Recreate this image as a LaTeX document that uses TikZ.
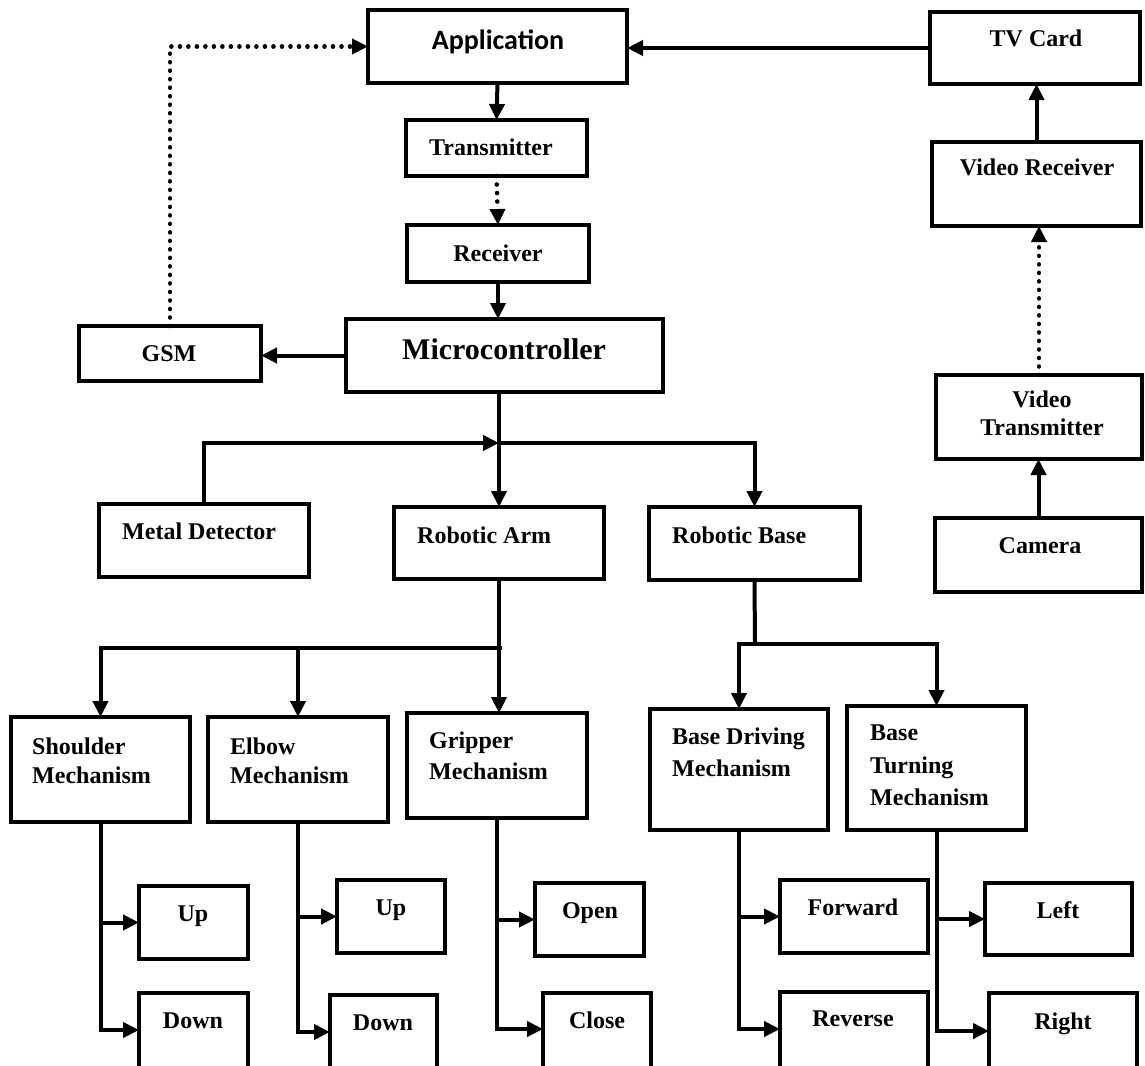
\documentclass[tikz,border=0pt]{standalone}
\usepackage{fontspec}
\setmainfont{Liberation Serif}
\newfontfamily\appfont{Carlito}
\usetikzlibrary{arrows.meta}
\begin{document}
\begin{tikzpicture}[x=1pt,y=-1pt,
  box/.style={draw, line width=3.5pt, inner sep=0pt, outer sep=0pt, rectangle},
  leaf/.style={box, anchor=north west},
  lbl/.style={inner sep=0pt, anchor=base, font=\fontsize{24}{29}\selectfont\bfseries},
  lbll/.style={lbl, anchor=base west},
  conn/.style={line width=4pt},
  arr/.style={line width=4pt, -{Triangle[length=16pt,width=15pt]}},
  dotarr/.style={line width=4.6pt, line cap=round, dash pattern=on 0.01pt off 8.5pt, -{Triangle[length=16pt,width=15pt]}},
]
\useasboundingbox (0,0) rectangle (1145,1065);
\clip (0,0) rectangle (1145,1065);
\fill[white] (0,0) rectangle (1145,1065);

% main boxes
\node[box, minimum width=259pt, minimum height=73pt] (app) at (497.5,46.5) {};
\node[box, minimum width=210pt, minimum height=72pt] (tv) at (1035,48) {};
\node[box, minimum width=209pt, minimum height=84pt] (vr) at (1036.5,184) {};
\node[box, minimum width=206pt, minimum height=84pt] (vt) at (1039,417) {};
\node[box, minimum width=207pt, minimum height=74pt] (cam) at (1038.5,555) {};
\node[box, minimum width=181pt, minimum height=56pt] (tx) at (496.5,148) {};
\node[box, minimum width=182pt, minimum height=57pt] (rx) at (498,253.5) {};
\node[box, minimum width=317pt, minimum height=73pt] (mc) at (504.5,355.5) {};
\node[box, minimum width=182pt, minimum height=55pt] (gsm) at (170,353.5) {};
\node[box, minimum width=210pt, minimum height=73pt] (md) at (204,540.5) {};
\node[box, minimum width=210pt, minimum height=72pt] (ra) at (499,543) {};
\node[box, minimum width=211pt, minimum height=73pt] (rb) at (754.5,543.5) {};
\node[box, minimum width=179pt, minimum height=105pt] (sh) at (100.5,769.5) {};
\node[box, minimum width=180pt, minimum height=105pt] (el) at (298,769.5) {};
\node[box, minimum width=180pt, minimum height=105pt] (gr) at (497,765.5) {};
\node[box, minimum width=178pt, minimum height=121pt] (bd) at (739,769.5) {};
\node[box, minimum width=179pt, minimum height=124pt] (bt) at (936.5,768) {};

% leaf boxes
\node[leaf, minimum width=109pt, minimum height=73pt] (sup) at (139,886) {};
\node[leaf, minimum width=109pt, minimum height=95pt] (sdn) at (139,993) {};
\node[leaf, minimum width=108pt, minimum height=73pt] (eup) at (337,880) {};
\node[leaf, minimum width=107pt, minimum height=95pt] (edn) at (330,995) {};
\node[leaf, minimum width=109pt, minimum height=73pt] (gop) at (535,883) {};
\node[leaf, minimum width=108pt, minimum height=95pt] (gcl) at (543,993) {};
\node[leaf, minimum width=148pt, minimum height=73pt] (fw) at (780,880) {};
\node[leaf, minimum width=148pt, minimum height=95pt] (rv) at (780,992) {};
\node[leaf, minimum width=147pt, minimum height=72pt] (lf) at (985,883) {};
\node[leaf, minimum width=148pt, minimum height=95pt] (rt) at (989,993) {};

% labels
\node[inner sep=0pt, anchor=base, font=\appfont\fontsize{28}{32}\selectfont\bfseries] (t-app) at (498,50) {Application};
\node[lbl] (t-tv) at (1036,47) {TV Card};
\node[lbl] (t-vr) at (1037,175) {Video Receiver};
\node[lbl] (t-vt1) at (1042,407) {Video};
\node[lbl] (t-vt2) at (1042,435) {Transmitter};
\node[lbl] (t-cam) at (1040,553) {Camera};
\node[lbl] (t-tx) at (491,155) {Transmitter};
\node[lbl] (t-rx) at (498,261) {Receiver};
\node[inner sep=0pt, anchor=base west, font=\fontsize{30}{34}\selectfont\bfseries] (t-mc) at (402,359) {Microcontroller};
\node[lbl] (t-gsm) at (169,361) {GSM};
\node[lbll] (t-md) at (122,539) {Metal Detector};
\node[lbll] (t-ra) at (417,543) {Robotic Arm};
\node[lbll] (t-rb) at (672,543) {Robotic Base};
\node[lbll] (t-sh1) at (32,754) {Shoulder};
\node[lbll] (t-sh2) at (32,783) {Mechanism};
\node[lbll] (t-el1) at (230,754) {Elbow};
\node[lbll] (t-el2) at (230,783) {Mechanism};
\node[lbll] (t-gr1) at (429,748) {Gripper};
\node[lbll] (t-gr2) at (429,779) {Mechanism};
\node[lbll] (t-bd1) at (672,744) {Base Driving};
\node[lbll] (t-bd2) at (672,776) {Mechanism};
\node[lbll] (t-bt1) at (870,740) {Base};
\node[lbll] (t-bt2) at (870,773) {Turning};
\node[lbll] (t-bt3) at (870,805) {Mechanism};
\node[lbl] (t-sup) at (193,921) {Up};
\node[lbl] (t-sdn) at (193,1028) {Down};
\node[lbl] (t-eup) at (391,915) {Up};
\node[lbl] (t-edn) at (383,1030) {Down};
\node[lbl] (t-gop) at (590,918) {Open};
\node[lbl] (t-gcl) at (597,1028) {Close};
\node[lbl] (t-fw) at (853,915) {Forward};
\node[lbl] (t-rv) at (853,1026) {Reverse};
\node[lbl] (t-lf) at (1058,918) {Left};
\node[lbl] (t-rt) at (1063,1029) {Right};

% connectors, top
\draw[arr] (tv.west) -- (tv.west -| app.east);
\draw[arr] (app.south) -- (tx.north);
\draw[dotarr] (tx.south) -- (rx.north);
\draw[arr] (rx.south) -- (rx.south |- mc.north);
\draw[arr] (mc.west) -- (mc.west -| gsm.east);
\draw[dotarr] (gsm.north) |- (app.west);
\draw[arr] (vr.north) -- (vr.north |- tv.south);
\draw[dotarr] (vt.north) -- (vt.north |- vr.south);
\draw[arr] (cam.north) -- (cam.north |- vt.south);

% microcontroller branches
\coordinate (j1) at (499,443);
\draw[arr] (ra.north |- mc.south) -- (ra.north);
\draw[arr] (md.north) |- (j1);
\draw[arr] (j1) -| (rb.north);

% robotic arm branches
\coordinate (j2) at (502,648);
\draw[arr] (ra.south) -- (ra.south |- gr.north);
\draw[arr] (j2) -| (sh.north);
\draw[arr] (j2 -| el.north) -- (el.north);

% robotic base branches
\coordinate (j3) at (755,644);
\draw[conn] (rb.south) -- (j3);
\draw[arr] (j3) -| (bd.north);
\draw[arr] (j3) -| (bt.north);

% leaves
\draw[arr] (sh.south) |- (sup.west);
\draw[arr] (sh.south) |- ([yshift=-37pt]sdn.north west);
\draw[arr] (el.south) |- (eup.west);
\draw[arr] (el.south) |- ([yshift=-37pt]edn.north west);
\draw[arr] (gr.south) |- (gop.west);
\draw[arr] (gr.south) |- ([yshift=-36pt]gcl.north west);
\draw[arr] (bd.south) |- (fw.west);
\draw[arr] (bd.south) |- ([yshift=-37pt]rv.north west);
\draw[arr] (bt.south) |- (lf.west);
\draw[arr] (bt.south) |- ([yshift=-38pt]rt.north west);
\end{tikzpicture}
\end{document}
